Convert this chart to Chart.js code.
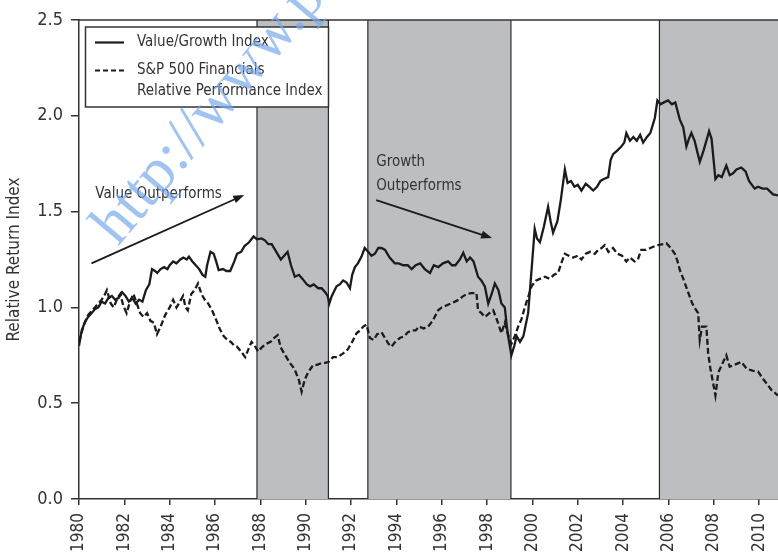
<!DOCTYPE html>
<html>
<head>
<meta charset="utf-8">
<script src="https://cdn.jsdelivr.net/npm/chart.js@4.4.0/dist/chart.umd.min.js"></script>
<style>
  body { margin: 0; background: #fff; }
</style>
</head>
<body>
<canvas id="myChart" width="778" height="553"></canvas>
<script>
// axis ticks
var yearTicks = [1980, 1982, 1984, 1986, 1988, 1990, 1992, 1994, 1996, 1998, 2000, 2002, 2004, 2006, 2008, 2010];
var valueTicks = [0, 0.5, 1.0, 1.5, 2.0, 2.5];

// shaded periods (years)
var shadeStarts = [1987.85, 1992.74, 2005.6];
var shadeEnds = [1991.0, 1999.05, 2010.83];

// Value/Growth Index (solid)
var vgYears = [1980.00, 1980.12, 1980.25, 1980.40, 1980.55, 1980.70, 1980.85, 1981.00, 1981.15, 1981.30, 1981.45, 1981.60, 1981.75, 1981.90,
  1982.05, 1982.20, 1982.35, 1982.50, 1982.65, 1982.80, 1982.95, 1983.10, 1983.22, 1983.35, 1983.45, 1983.60, 1983.75, 1983.90,
  1984.00, 1984.15, 1984.30, 1984.47, 1984.60, 1984.75, 1984.85, 1985.00, 1985.15, 1985.30, 1985.45, 1985.57, 1985.65, 1985.80, 1985.94,
  1986.05, 1986.16, 1986.35, 1986.50, 1986.67, 1986.85, 1986.97, 1987.15, 1987.30, 1987.50, 1987.70, 1987.85, 1988.05, 1988.20, 1988.35,
  1988.50, 1988.65, 1988.80, 1988.90, 1989.05, 1989.20, 1989.35, 1989.52, 1989.70, 1989.85, 1990.05, 1990.19, 1990.35, 1990.55, 1990.70,
  1990.85, 1990.97, 1991.04, 1991.15, 1991.36, 1991.50, 1991.65, 1991.80, 1991.95, 1992.05, 1992.17, 1992.30, 1992.46, 1992.60, 1992.75,
  1992.90, 1993.05, 1993.20, 1993.34, 1993.50, 1993.70, 1993.93, 1994.10, 1994.30, 1994.50, 1994.67, 1994.85, 1995.05, 1995.25, 1995.48,
  1995.65, 1995.85, 1996.05, 1996.28, 1996.45, 1996.60, 1996.80, 1996.95, 1997.10, 1997.25, 1997.40, 1997.60, 1997.75, 1997.90, 1998.05,
  1998.20, 1998.34, 1998.50, 1998.63, 1998.78, 1998.90, 1999.07, 1999.20, 1999.30, 1999.45, 1999.60, 1999.81, 1999.96, 2000.10, 2000.20,
  2000.33, 2000.50, 2000.69, 2000.80, 2000.91, 2001.10, 2001.25, 2001.43, 2001.55, 2001.70, 2001.85, 2002.00, 2002.16, 2002.35, 2002.50,
  2002.68, 2002.85, 2003.00, 2003.15, 2003.34, 2003.45, 2003.56, 2003.75, 2003.92, 2004.05, 2004.14, 2004.30, 2004.45, 2004.60, 2004.75,
  2004.88, 2005.05, 2005.20, 2005.40, 2005.51, 2005.65, 2005.80, 2005.98, 2006.15, 2006.30, 2006.50, 2006.65, 2006.79, 2006.90, 2007.01,
  2007.15, 2007.38, 2007.55, 2007.79, 2007.90, 2008.07, 2008.20, 2008.35, 2008.55, 2008.70, 2008.85, 2009.00, 2009.21, 2009.40, 2009.55,
  2009.80, 2009.95, 2010.15, 2010.35, 2010.61, 2010.83];
var vgValues = [0.80, 0.88, 0.92, 0.95, 0.97, 0.99, 1.00, 1.03, 1.02, 1.05, 1.06, 1.04, 1.05, 1.08,
  1.06, 1.03, 1.05, 1.02, 1.04, 1.03, 1.09, 1.12, 1.20, 1.19, 1.18, 1.20, 1.21, 1.20,
  1.22, 1.24, 1.23, 1.25, 1.26, 1.25, 1.265, 1.24, 1.22, 1.20, 1.17, 1.16, 1.22, 1.29, 1.28,
  1.24, 1.195, 1.20, 1.19, 1.19, 1.24, 1.28, 1.29, 1.32, 1.34, 1.37, 1.355, 1.36, 1.35, 1.33,
  1.33, 1.30, 1.27, 1.25, 1.27, 1.29, 1.22, 1.16, 1.17, 1.15, 1.12, 1.11, 1.12, 1.10, 1.10,
  1.08, 1.06, 1.02, 1.06, 1.11, 1.12, 1.14, 1.13, 1.10, 1.17, 1.21, 1.23, 1.265, 1.31, 1.29,
  1.27, 1.28, 1.31, 1.31, 1.30, 1.26, 1.23, 1.23, 1.22, 1.22, 1.20, 1.22, 1.23, 1.20, 1.18,
  1.22, 1.21, 1.23, 1.24, 1.22, 1.22, 1.25, 1.285, 1.24, 1.26, 1.24, 1.16, 1.14, 1.11, 1.02,
  1.07, 1.125, 1.09, 1.02, 1.00, 0.87, 0.75, 0.80, 0.85, 0.82, 0.85, 0.97, 1.195, 1.41, 1.36,
  1.34, 1.42, 1.525, 1.45, 1.39, 1.45, 1.56, 1.72, 1.65, 1.66, 1.63, 1.64, 1.61, 1.645, 1.63,
  1.61, 1.63, 1.66, 1.67, 1.68, 1.77, 1.80, 1.82, 1.84, 1.86, 1.91, 1.87, 1.89, 1.87, 1.90,
  1.86, 1.89, 1.91, 1.99, 2.08, 2.06, 2.07, 2.08, 2.06, 2.07, 1.98, 1.94, 1.84, 1.88, 1.91,
  1.87, 1.76, 1.82, 1.92, 1.88, 1.67, 1.69, 1.68, 1.74, 1.69, 1.70, 1.72, 1.73, 1.71, 1.66,
  1.62, 1.63, 1.62, 1.62, 1.59, 1.585];

// S&P 500 Financials Relative Performance Index (dashed)
var finYears = [1980.00, 1980.12, 1980.25, 1980.40, 1980.55, 1980.70, 1980.85, 1981.00, 1981.15, 1981.23, 1981.40, 1981.53, 1981.70, 1981.82,
  1981.95, 1982.10, 1982.25, 1982.40, 1982.55, 1982.70, 1982.85, 1983.00, 1983.15, 1983.30, 1983.44, 1983.60, 1983.80, 1984.00,
  1984.15, 1984.30, 1984.45, 1984.59, 1984.70, 1984.80, 1984.95, 1985.10, 1985.25, 1985.40, 1985.55, 1985.70, 1985.85, 1986.05,
  1986.20, 1986.38, 1986.55, 1986.70, 1986.85, 1986.97, 1987.15, 1987.33, 1987.50, 1987.61, 1987.75, 1987.90, 1988.05, 1988.25,
  1988.45, 1988.60, 1988.76, 1988.90, 1989.05, 1989.20, 1989.30, 1989.50, 1989.70, 1989.82, 1989.95, 1990.10, 1990.33, 1990.50,
  1990.70, 1990.85, 1991.00, 1991.20, 1991.40, 1991.65, 1991.85, 1992.05, 1992.24, 1992.40, 1992.54, 1992.68, 1992.83, 1993.00,
  1993.15, 1993.34, 1993.50, 1993.65, 1993.78, 1993.95, 1994.15, 1994.35, 1994.50, 1994.67, 1994.85, 1995.00, 1995.20, 1995.40,
  1995.60, 1995.84, 1996.00, 1996.20, 1996.40, 1996.58, 1996.75, 1996.90, 1997.10, 1997.31, 1997.53, 1997.60, 1997.75, 1997.90,
  1998.10, 1998.27, 1998.45, 1998.63, 1998.78, 1998.92, 1999.07, 1999.22, 1999.37, 1999.52, 1999.66, 1999.80, 1999.96, 2000.15,
  2000.35, 2000.55, 2000.75, 2000.95, 2001.13, 2001.30, 2001.43, 2001.60, 2001.80, 2002.00, 2002.16, 2002.35, 2002.55, 2002.75,
  2002.90, 2003.05, 2003.19, 2003.35, 2003.55, 2003.75, 2003.95, 2004.14, 2004.30, 2004.50, 2004.65, 2004.80, 2005.00, 2005.20,
  2005.40, 2005.54, 2005.75, 2005.91, 2006.10, 2006.28, 2006.40, 2006.50, 2006.65, 2006.80, 2006.94, 2007.05, 2007.20, 2007.31,
  2007.38, 2007.48, 2007.67, 2007.75, 2007.85, 2008.07, 2008.20, 2008.35, 2008.55, 2008.70, 2008.90, 2009.21, 2009.45, 2009.70,
  2009.95, 2010.15, 2010.35, 2010.53, 2010.83];
var finValues = [0.82, 0.87, 0.92, 0.96, 0.98, 1.00, 1.02, 1.04, 1.07, 1.09, 1.02, 1.00, 1.05, 1.07,
  1.01, 0.97, 1.03, 1.07, 1.02, 0.97, 0.95, 0.97, 0.93, 0.92, 0.86, 0.90, 0.96, 1.00,
  1.04, 1.00, 1.03, 1.06, 1.00, 0.985, 1.07, 1.09, 1.125, 1.07, 1.04, 1.02, 0.99, 0.935,
  0.89, 0.85, 0.83, 0.82, 0.80, 0.795, 0.77, 0.74, 0.79, 0.82, 0.80, 0.77, 0.79, 0.81,
  0.82, 0.84, 0.855, 0.79, 0.76, 0.73, 0.71, 0.68, 0.62, 0.56, 0.62, 0.66, 0.70, 0.70,
  0.71, 0.71, 0.715, 0.74, 0.74, 0.76, 0.78, 0.82, 0.865, 0.88, 0.90, 0.91, 0.84, 0.83,
  0.86, 0.87, 0.84, 0.81, 0.795, 0.82, 0.84, 0.85, 0.87, 0.88, 0.88, 0.90, 0.89, 0.90,
  0.93, 0.985, 1.00, 1.01, 1.02, 1.03, 1.04, 1.055, 1.07, 1.075, 1.075, 0.985, 0.97, 0.95,
  0.97, 0.985, 0.93, 0.865, 0.92, 0.86, 0.81, 0.85, 0.90, 0.94, 1.00, 1.05, 1.11, 1.14,
  1.15, 1.16, 1.15, 1.17, 1.18, 1.24, 1.28, 1.27, 1.26, 1.27, 1.25, 1.28, 1.29, 1.28,
  1.30, 1.31, 1.325, 1.29, 1.31, 1.28, 1.27, 1.24, 1.26, 1.24, 1.25, 1.30, 1.30, 1.31,
  1.32, 1.325, 1.33, 1.335, 1.31, 1.28, 1.24, 1.195, 1.15, 1.10, 1.055, 1.02, 0.99, 0.97,
  0.83, 0.90, 0.90, 0.76, 0.68, 0.54, 0.66, 0.70, 0.75, 0.69, 0.70, 0.715, 0.68, 0.67,
  0.665, 0.63, 0.60, 0.57, 0.54];

var FONT = "'Liberation Sans Narrow', 'DejaVu Sans Condensed', 'Liberation Sans', sans-serif";
var INK = '#333333';
var LINE = '#1b1b1b';

function toPoints(xs, ys) {
  var pts = [];
  for (var i = 0; i < xs.length; i++) {
    pts.push({ x: xs[i], y: ys[i] });
  }
  return pts;
}

function arrow(ctx, x1, y1, x2, y2) {
  var a = Math.atan2(y2 - y1, x2 - x1);
  ctx.save();
  ctx.strokeStyle = LINE;
  ctx.fillStyle = LINE;
  ctx.lineWidth = 1.8;
  ctx.beginPath();
  ctx.moveTo(x1, y1);
  ctx.lineTo(x2 - 8 * Math.cos(a), y2 - 8 * Math.sin(a));
  ctx.stroke();
  ctx.beginPath();
  ctx.moveTo(x2, y2);
  ctx.lineTo(x2 - 11 * Math.cos(a) + 4 * Math.sin(a), y2 - 11 * Math.sin(a) - 4 * Math.cos(a));
  ctx.lineTo(x2 - 11 * Math.cos(a) - 4 * Math.sin(a), y2 - 11 * Math.sin(a) + 4 * Math.cos(a));
  ctx.closePath();
  ctx.fill();
  ctx.restore();
}

// white background + shaded periods + frame
var shadePlugin = {
  id: 'shade',
  beforeDraw: function (chart) {
    var ctx = chart.ctx;
    ctx.save();
    ctx.fillStyle = '#ffffff';
    ctx.fillRect(0, 0, chart.width, chart.height);
    ctx.restore();
  },
  beforeDatasetsDraw: function (chart) {
    var ctx = chart.ctx, area = chart.chartArea;
    var xs = chart.scales.x;
    ctx.save();
    for (var i = 0; i < shadeStarts.length; i++) {
      var l = xs.getPixelForValue(shadeStarts[i]);
      var r = xs.getPixelForValue(shadeEnds[i]);
      ctx.fillStyle = '#bdbec2';
      ctx.fillRect(l, area.top, r - l, area.bottom - area.top);
      ctx.strokeStyle = '#2a2a2a';
      ctx.lineWidth = 1.2;
      ctx.beginPath();
      ctx.moveTo(l, area.top);
      ctx.lineTo(l, area.bottom);
      if (r < area.right - 1) {
        ctx.moveTo(r, area.top);
        ctx.lineTo(r, area.bottom);
      }
      ctx.stroke();
    }
    // top frame line
    ctx.strokeStyle = INK;
    ctx.lineWidth = 1.5;
    ctx.beginPath();
    ctx.moveTo(area.left, area.top);
    ctx.lineTo(area.right, area.top);
    ctx.stroke();
    ctx.restore();
  }
};

// legend box, notes and watermark
var notesPlugin = {
  id: 'notes',
  afterDatasetsDraw: function (chart) {
    var ctx = chart.ctx;
    var xs = chart.scales.x, ys = chart.scales.y;
    ctx.save();

    // legend
    ctx.fillStyle = '#ffffff';
    ctx.fillRect(85.5, 27, 243, 80);
    ctx.strokeStyle = INK;
    ctx.lineWidth = 1.5;
    ctx.strokeRect(85.5, 27, 243, 80);
    ctx.strokeStyle = LINE;
    ctx.lineWidth = 2.2;
    ctx.beginPath();
    ctx.moveTo(95, 42.5);
    ctx.lineTo(124, 42.5);
    ctx.stroke();
    ctx.setLineDash([5, 3]);
    ctx.beginPath();
    ctx.moveTo(95, 70.5);
    ctx.lineTo(126, 70.5);
    ctx.stroke();
    ctx.setLineDash([]);
    ctx.fillStyle = INK;
    ctx.font = '15px ' + FONT;
    ctx.textBaseline = 'middle';
    ctx.textAlign = 'left';
    ctx.fillText('Value/Growth Index', 137, 42);
    ctx.fillText('S&P 500 Financials', 137, 70);
    ctx.fillText('Relative Performance Index', 137, 91);

    // notes
    ctx.fillText('Value Outperforms', xs.getPixelForValue(1980.72), ys.getPixelForValue(1.59));
    ctx.fillText('Growth', xs.getPixelForValue(1993.11), ys.getPixelForValue(1.76));
    ctx.fillText('Outperforms', xs.getPixelForValue(1993.11), ys.getPixelForValue(1.634));

    // watermark
    ctx.save();
    ctx.translate(118, 247);
    ctx.rotate(-50 * Math.PI / 180);
    ctx.fillStyle = 'rgba(120, 170, 235, 0.7)';
    ctx.font = '62px "Liberation Serif", serif';
    ctx.textBaseline = 'alphabetic';
    ctx.fillText('http://www.p', 0, 0);
    ctx.restore();

    arrow(ctx, xs.getPixelForValue(1980.55), ys.getPixelForValue(1.23), xs.getPixelForValue(1987.29), ys.getPixelForValue(1.587));
    arrow(ctx, xs.getPixelForValue(1993.11), ys.getPixelForValue(1.56), xs.getPixelForValue(1998.22), ys.getPixelForValue(1.362));
    ctx.restore();
  }
};

var ctx = document.getElementById('myChart').getContext('2d');
var myChart = new Chart(ctx, {
  type: 'line',
  data: {
    datasets: [{
      label: 'Value/Growth Index',
      data: toPoints(vgYears, vgValues),
      borderColor: LINE,
      borderWidth: 2.3,
      pointRadius: 0,
      tension: 0,
      fill: false
    }, {
      label: 'S&P 500 Financials Relative Performance Index',
      data: toPoints(finYears, finValues),
      borderColor: LINE,
      borderWidth: 2.3,
      borderDash: [6, 3],
      pointRadius: 0,
      tension: 0,
      fill: false
    }]
  },
  options: {
    responsive: false,
    animation: false,
    devicePixelRatio: 1,
    layout: { padding: { top: 20, right: 0, bottom: 0, left: 0 } },
    plugins: {
      legend: { display: false },
      tooltip: { enabled: false }
    },
    scales: {
      x: {
        type: 'linear',
        min: 1980,
        max: 2010.83,
        afterBuildTicks: function (s) { s.ticks = yearTicks.map(function (v) { return { value: v }; }); },
        afterFit: function (s) { s.height = 54; s.paddingRight = 0; s.paddingLeft = 0; },
        ticks: {
          autoSkip: false,
          minRotation: 90,
          maxRotation: 90,
          padding: 8,
          color: INK,
          font: { family: FONT, size: 17 },
          callback: function (v) { return String(v); }
        },
        grid: { drawOnChartArea: false, tickLength: 6, color: INK, lineWidth: 1.5 },
        border: { color: INK, width: 1.5 }
      },
      y: {
        min: 0,
        max: 2.5,
        afterBuildTicks: function (s) { s.ticks = valueTicks.map(function (v) { return { value: v }; }); },
        afterFit: function (s) { s.width = 79; },
        ticks: {
          padding: 8,
          color: INK,
          font: { family: FONT, size: 18 },
          callback: function (v) { return v.toFixed(1); }
        },
        grid: { drawOnChartArea: false, tickLength: 8, color: INK, lineWidth: 1.5 },
        border: { color: INK, width: 1.5 },
        title: {
          display: true,
          text: 'Relative Return Index',
          color: INK,
          font: { family: FONT, size: 17 },
          padding: { top: 4, bottom: 0 }
        }
      }
    }
  },
  plugins: [shadePlugin, notesPlugin]
});
</script>
</body>
</html>
